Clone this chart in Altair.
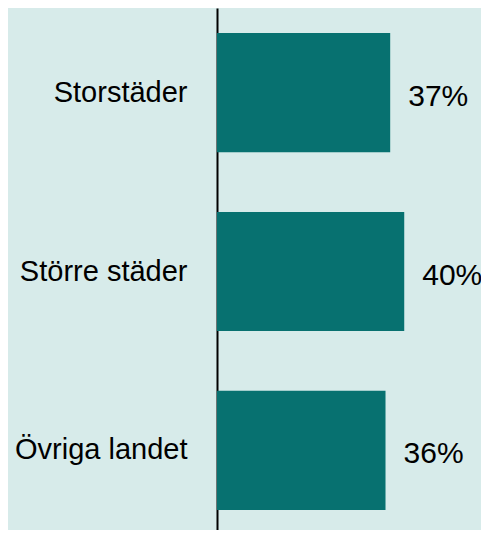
import altair as alt
import pandas as pd

categories = ["Storstäder", "Större städer", "Övriga landet"]
values = [37, 40, 36]
labels = ["37%", "40%", "36%"]

df = pd.DataFrame({"cat": categories, "val": values, "lab": labels})

BG = "#d7ebea"
BAR = "#077170"
FONT = "Liberation Sans"

y = alt.Y(
    "cat:N",
    sort=categories,
    title=None,
    scale=alt.Scale(paddingInner=0.334, paddingOuter=0.126, align=0.556),
    axis=alt.Axis(
        domain=True, domainColor="black", domainWidth=2, ticks=False,
        labelFont=FONT, labelFontSize=29, labelColor="black",
        labelPadding=30, labelLimit=300,
    ),
)
x = alt.X("val:Q", title=None, scale=alt.Scale(domain=[0, 56.4], nice=False), axis=None)

bars = alt.Chart(df).mark_bar(color=BAR).encode(x=x, y=y)
text = alt.Chart(df).mark_text(
    align="left", baseline="middle", dx=18, dy=4, font=FONT, fontSize=30, color="black"
).encode(x=x, y=alt.Y("cat:N", sort=categories), text="lab:N")

chart = (bars + text).properties(
    width=264, height=522, background=BG,
    autosize=alt.AutoSizeParams(type="none"),
    padding={"left": 209, "top": 0, "right": 0, "bottom": 0},
).configure_view(stroke=None, fill=BG)

chart.save("out.html", embed_options={"renderer": "svg", "actions": False})
